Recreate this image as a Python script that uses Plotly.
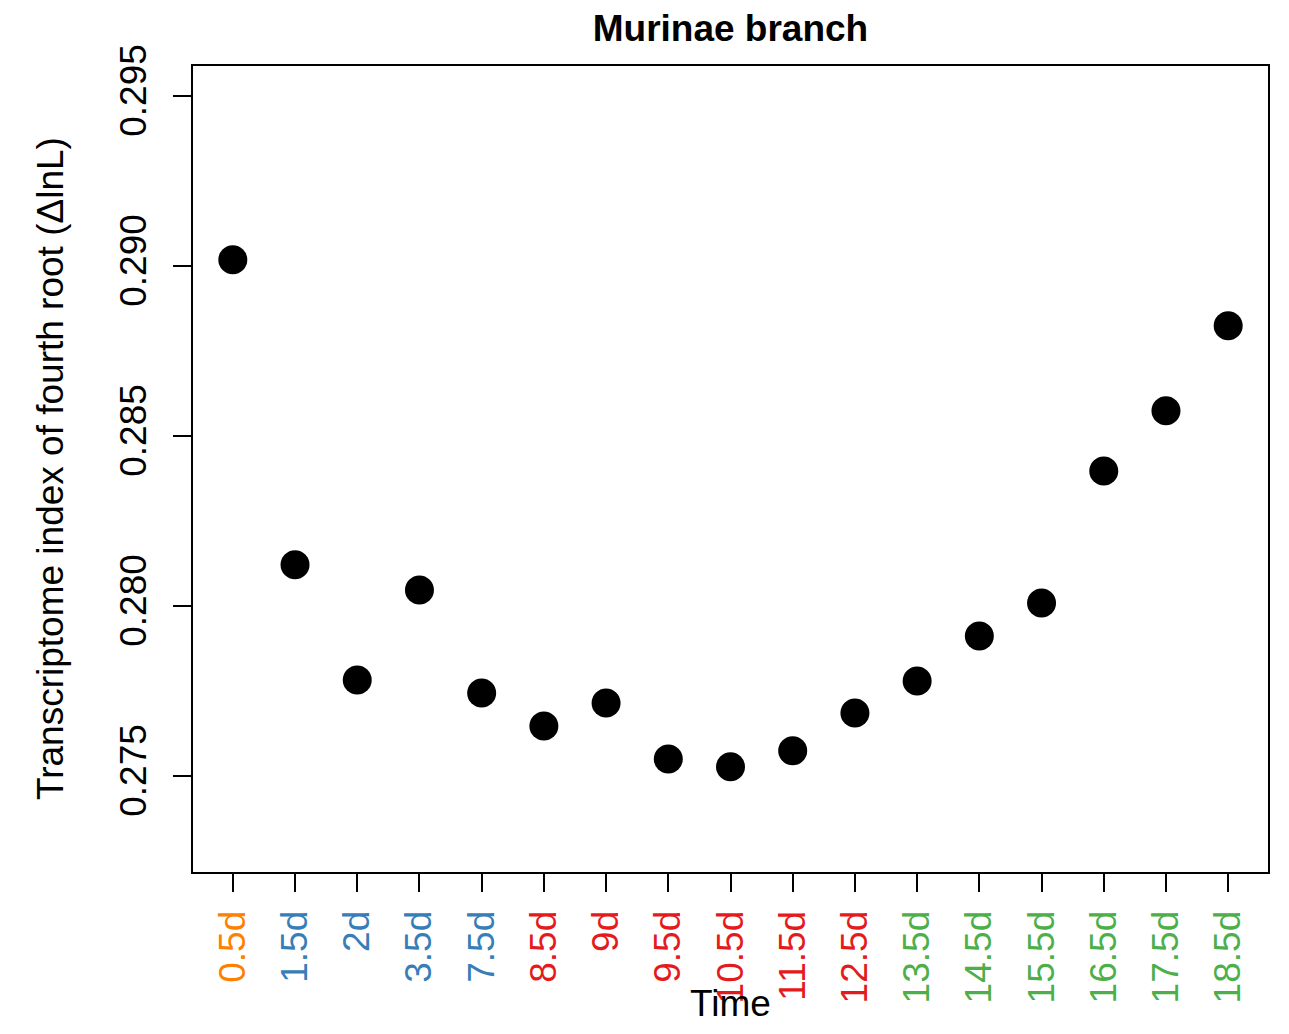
import plotly.graph_objects as go

# Developmental stages and their transcriptome index values
stages = ["0.5d", "1.5d", "2d", "3.5d", "7.5d", "8.5d", "9d", "9.5d", "10.5d",
          "11.5d", "12.5d", "13.5d", "14.5d", "15.5d", "16.5d", "17.5d", "18.5d"]
index_values = [0.29018, 0.28121, 0.27782, 0.28047, 0.27744, 0.27647, 0.27715,
                0.27550, 0.27527, 0.27574, 0.27685, 0.27779, 0.27912, 0.28009,
                0.28397, 0.28574, 0.28824]
stage_groups = ["orange", "blue", "blue", "blue", "blue", "red", "red", "red", "red",
                "red", "red", "green", "green", "green", "green", "green", "green"]
group_colors = {"orange": "#FF7F00", "blue": "#377EB8", "red": "#E41A1C", "green": "#4DAF4A"}
y_ticks = [0.275, 0.280, 0.285, 0.290, 0.295]

positions = list(range(1, len(stages) + 1))
tick_text = [f'<span style="color:{group_colors[g]}">{s}</span>'
             for s, g in zip(stages, stage_groups)]

FONT = "Liberation Sans, Arial, Helvetica, sans-serif"

fig = go.Figure()
fig.add_trace(go.Scatter(
    x=positions, y=index_values, mode="markers",
    marker=dict(color="black", size=29, line=dict(width=0)),
    showlegend=False,
))

fig.update_layout(
    width=1289, height=1034,
    margin=dict(l=193, r=21, t=66, b=162),
    paper_bgcolor="white", plot_bgcolor="white",
    font=dict(family=FONT, size=37, color="black"),
    title=dict(text="<b>Murinae branch</b>", x=0.5667, xanchor="center",
               y=0.973, yanchor="middle", font=dict(size=37)),
    xaxis=dict(
        range=[0.36, 17.64], tickvals=positions, ticktext=tick_text,
        tickangle=-90, ticks="outside", ticklen=18, tickwidth=2, tickcolor="black",
        showline=True, linecolor="black", linewidth=2, mirror=True,
        showgrid=False, zeroline=False, ticklabelstandoff=4,
    ),
    yaxis=dict(
        range=[0.272176, 0.295882], tickvals=y_ticks,
        ticktext=[f"{v:.3f}" for v in y_ticks],
        tickangle=-90, ticks="outside", ticklen=18, tickwidth=2, tickcolor="black",
        showline=True, linecolor="black", linewidth=2, mirror=True,
        showgrid=False, zeroline=False, ticklabelstandoff=12,
    ),
)

fig.add_annotation(text="Time", xref="paper", yref="paper", x=0.5, y=-0.163,
                   xanchor="center", yanchor="middle", showarrow=False,
                   font=dict(size=37))
fig.add_annotation(text="Transcriptome index of fourth root (ΔlnL)",
                   xref="paper", yref="paper", x=-0.133, y=0.5,
                   xanchor="center", yanchor="middle", textangle=-90,
                   showarrow=False, font=dict(size=37))

fig.write_html("out.html")
